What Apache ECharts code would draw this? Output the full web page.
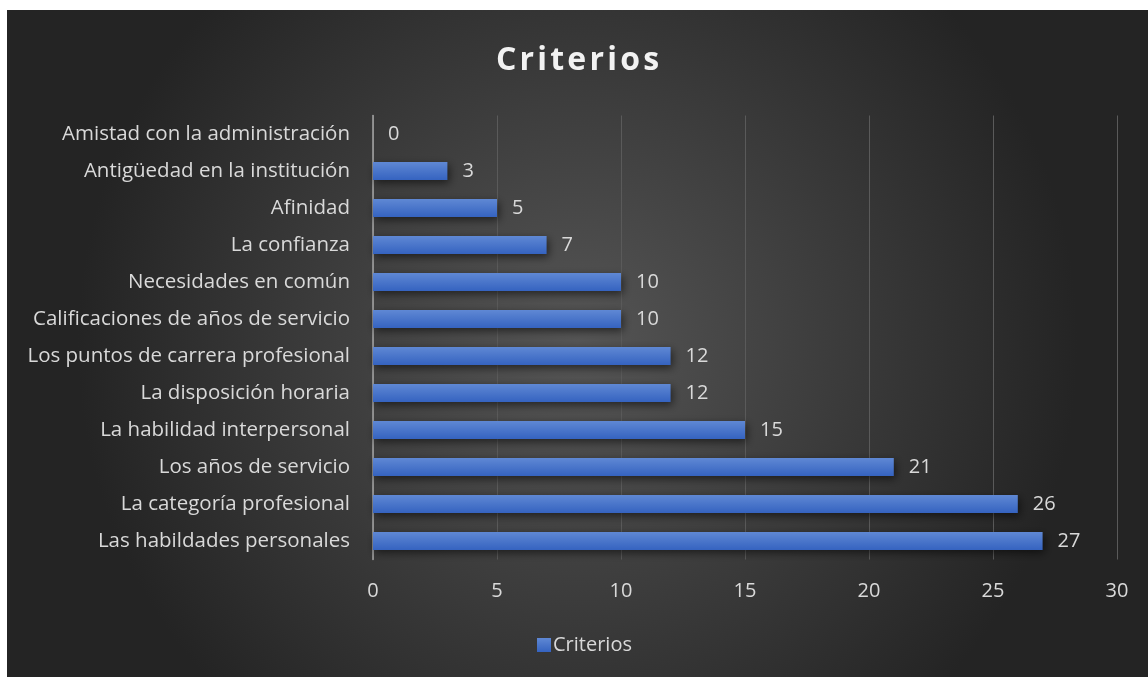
<!DOCTYPE html>
<html>
<head>
<meta charset="utf-8">
<script src="https://cdn.jsdelivr.net/npm/echarts@6/dist/echarts.min.js"></script>
<style>
  html, body { margin: 0; padding: 0; background: #ffffff; }
  #chart { position: absolute; left: 7px; top: 10px; width: 1141px; height: 667px; }
</style>
</head>
<body>
<div id="chart"></div>
<script>
// categorias de abajo hacia arriba (el eje de categorias empieza abajo)
const categories = [
  'Las habildades personales',
  'La categoría profesional',
  'Los años de servicio',
  'La habilidad interpersonal',
  'La disposición horaria',
  'Los puntos de carrera profesional',
  'Calificaciones de años de servicio',
  'Necesidades en común',
  'La confianza',
  'Afinidad',
  'Antigüedad en la institución',
  'Amistad con la administración'
];
const values = [27, 26, 21, 15, 12, 12, 10, 10, 7, 5, 3, 0];
const xTicks = [0, 5, 10, 15, 20, 25, 30];

const FONT = '"Open Sans", Lato, sans-serif';
const chart = echarts.init(document.getElementById('chart'));

const option = {
  color: ['#4472c4'],
  backgroundColor: {
    type: 'radial', x: 0.5, y: 0.5, r: 0.75,
    colorStops: [
      { offset: 0, color: '#555555' },
      { offset: 1, color: '#242424' }
    ]
  },
  title: {
    // espacio fino entre letras como en el original
    text: 'Criterios'.split('').join('\u200A'),
    left: 'center',
    top: 30,
    textStyle: { color: '#f2f2f2', fontSize: 32, fontWeight: 'bold', fontFamily: FONT }
  },
  legend: {
    data: ['Criterios'],
    left: 525,
    top: 620,
    icon: 'rect',
    itemWidth: 14,
    itemHeight: 14,
    itemGap: 6,
    textStyle: { color: '#d9d9d9', fontSize: 20, fontFamily: FONT, padding: [0, 0, 0, -3] }
  },
  grid: { left: 366, right: 31, top: 105.5, bottom: 117.5, containLabel: false },
  xAxis: {
    type: 'value',
    min: xTicks[0],
    max: xTicks[xTicks.length - 1],
    interval: 5,
    axisLine: { show: false },
    axisTick: { show: false },
    axisLabel: { color: '#d9d9d9', fontSize: 20, fontFamily: FONT, margin: 22 },
    splitLine: { show: true, lineStyle: { color: '#5a5a5a', width: 1 } }
  },
  yAxis: {
    type: 'category',
    data: categories,
    axisLine: { show: true, lineStyle: { color: '#a6a6a6', width: 1.5 } },
    axisTick: { show: false },
    axisLabel: { color: '#d9d9d9', fontSize: 20.5, fontFamily: FONT, margin: 23 }
  },
  series: [
    {
      name: 'Criterios',
      type: 'bar',
      data: values,
      barWidth: 18,
      itemStyle: {
        color: {
          type: 'linear', x: 0, y: 0, x2: 0, y2: 1,
          colorStops: [
            { offset: 0, color: '#5f88d4' },
            { offset: 1, color: '#3563c0' }
          ]
        },
        shadowColor: 'rgba(0,0,0,0.55)',
        shadowBlur: 8,
        shadowOffsetX: 2,
        shadowOffsetY: 3
      },
      label: {
        show: true,
        position: 'right',
        distance: 15,
        color: '#d9d9d9',
        fontSize: 20,
        fontFamily: FONT
      }
    }
  ]
};
chart.setOption(option);
</script>
</body>
</html>
